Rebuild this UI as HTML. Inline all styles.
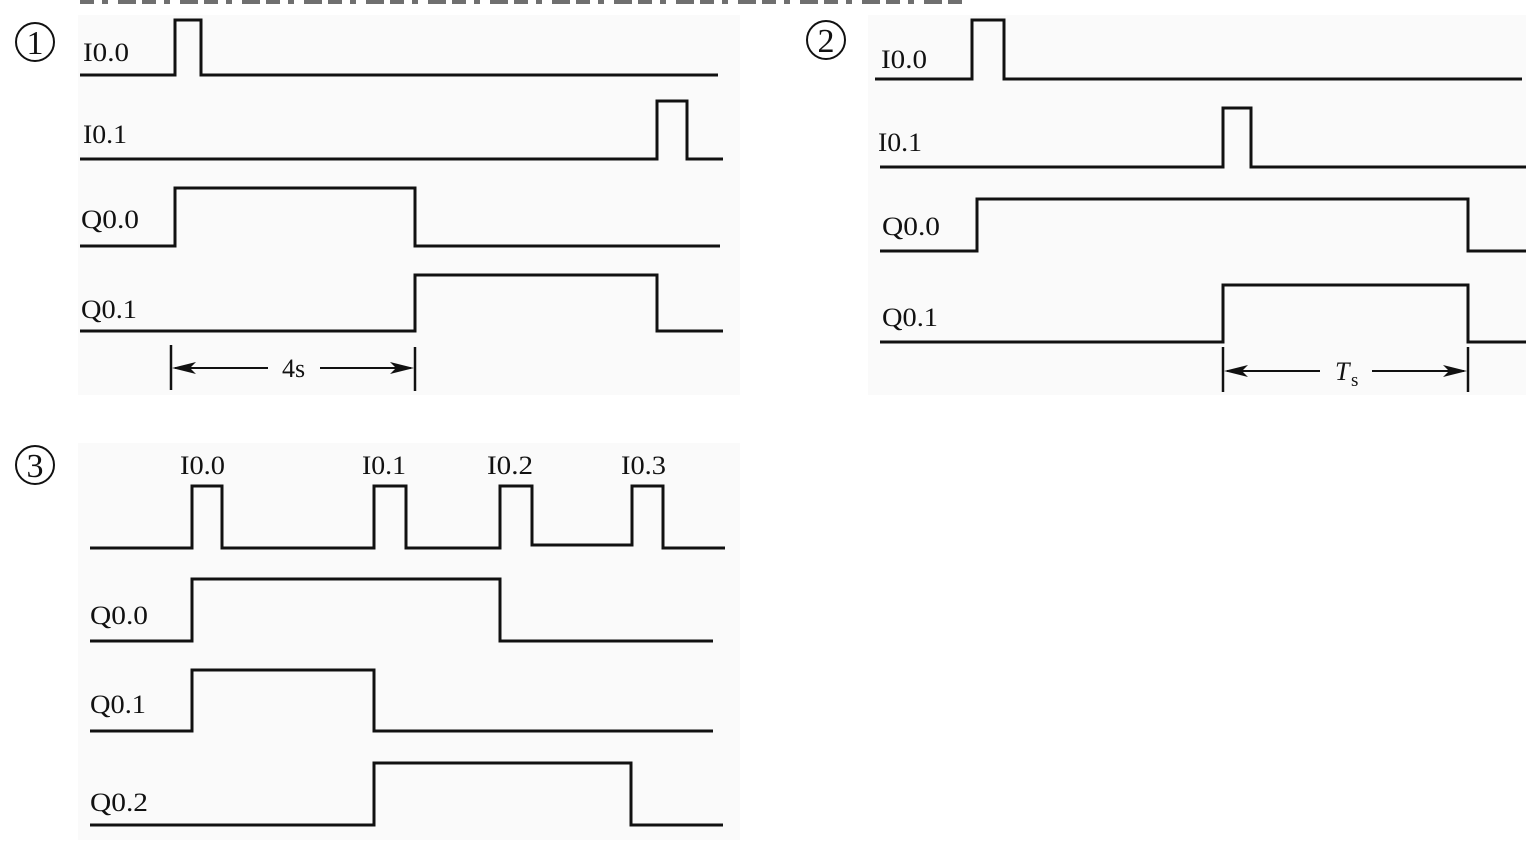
<!DOCTYPE html>
<html><head><meta charset="utf-8"><style>
html,body{margin:0;padding:0;background:#fff;}
svg{display:block;}
text{font-family:"Liberation Serif",serif;fill:#111;}
</style></head><body>
<svg width="1526" height="844" viewBox="0 0 1526 844" xmlns="http://www.w3.org/2000/svg">
<rect x="78" y="15" width="662" height="380" fill="#fafafa"/>
<rect x="868" y="15" width="658" height="380" fill="#fafafa"/>
<rect x="78" y="443" width="662" height="397" fill="#fafafa"/>
<line x1="80" y1="2" x2="970" y2="2" stroke="#333" stroke-width="4" stroke-dasharray="14 8 6 10 18 6" opacity="0.7"/>
<g fill="none" stroke="#111" stroke-width="3">
<polyline points="80,75 175,75 175,20 201,20 201,75 718,75"/>
<polyline points="80,159 657,159 657,101 687,101 687,159 723,159"/>
<polyline points="80,246 175,246 175,188 415,188 415,246 720,246"/>
<polyline points="80,331 415,331 415,275 657,275 657,331 723,331"/>
<polyline points="875,79 972,79 972,20 1004,20 1004,79 1522,79"/>
<polyline points="880,167 1223,167 1223,108 1251,108 1251,167 1526,167"/>
<polyline points="880,251 977,251 977,199 1468,199 1468,251 1526,251"/>
<polyline points="880,342 1223,342 1223,285 1468,285 1468,342 1526,342"/>
<polyline points="90,548 192,548 192,486 222,486 222,548 374,548 374,486 406,486 406,548 500,548 500,486 532,486 532,545 632,545 632,486 663,486 663,548 725,548"/>
<polyline points="90,641 192,641 192,579 500,579 500,641 713,641"/>
<polyline points="90,731 192,731 192,670 374,670 374,731 713,731"/>
<polyline points="90,825 374,825 374,763 631,763 631,825 723,825"/>
</g>
<g stroke="#111" fill="none">
<line x1="171" y1="345" x2="171" y2="390" stroke-width="2.5"/>
<line x1="415" y1="347" x2="415" y2="391" stroke-width="2.5"/>
<line x1="175" y1="368" x2="268" y2="368" stroke-width="2"/>
<line x1="320" y1="368" x2="411" y2="368" stroke-width="2"/>
<line x1="1223" y1="347" x2="1223" y2="392" stroke-width="2.5"/>
<line x1="1468" y1="347" x2="1468" y2="392" stroke-width="2.5"/>
<line x1="1227" y1="371" x2="1320" y2="371" stroke-width="2"/>
<line x1="1372" y1="371" x2="1464" y2="371" stroke-width="2"/>
</g>
<g fill="#111">
<polygon points="172,368 196,362 190,368 196,374"/>
<polygon points="414,368 390,362 396,368 390,374"/>
<polygon points="1224,371 1248,365 1242,371 1248,377"/>
<polygon points="1467,371 1443,365 1449,371 1443,377"/>
</g>
<g font-size="26">
<text x="282" y="377">4s</text>
<text x="1335" y="380" font-style="italic">T</text>
<text x="1351" y="386" font-size="19">s</text>
<text x="83" y="61" textLength="46" lengthAdjust="spacingAndGlyphs">I0.0</text>
<text x="83" y="143" textLength="44" lengthAdjust="spacingAndGlyphs">I0.1</text>
<text x="81" y="228" textLength="58" lengthAdjust="spacingAndGlyphs">Q0.0</text>
<text x="81" y="318" textLength="56" lengthAdjust="spacingAndGlyphs">Q0.1</text>
<text x="881" y="68" textLength="46" lengthAdjust="spacingAndGlyphs">I0.0</text>
<text x="878" y="151" textLength="44" lengthAdjust="spacingAndGlyphs">I0.1</text>
<text x="882" y="235" textLength="58" lengthAdjust="spacingAndGlyphs">Q0.0</text>
<text x="882" y="326" textLength="56" lengthAdjust="spacingAndGlyphs">Q0.1</text>
<text x="180" y="474" textLength="45" lengthAdjust="spacingAndGlyphs">I0.0</text>
<text x="362" y="474" textLength="44" lengthAdjust="spacingAndGlyphs">I0.1</text>
<text x="487" y="474" textLength="46" lengthAdjust="spacingAndGlyphs">I0.2</text>
<text x="621" y="474" textLength="45" lengthAdjust="spacingAndGlyphs">I0.3</text>
<text x="90" y="624" textLength="58" lengthAdjust="spacingAndGlyphs">Q0.0</text>
<text x="90" y="713" textLength="56" lengthAdjust="spacingAndGlyphs">Q0.1</text>
<text x="90" y="811" textLength="58" lengthAdjust="spacingAndGlyphs">Q0.2</text>
</g>
<g fill="none" stroke="#111" stroke-width="2">
<circle cx="35" cy="42" r="19"/>
<circle cx="826" cy="40" r="19"/>
<circle cx="35" cy="465" r="19"/>
</g>
<g font-size="34" text-anchor="middle">
<text x="35" y="54">1</text>
<text x="826" y="52">2</text>
<text x="35" y="477">3</text>
</g>
</svg>
</body></html>
